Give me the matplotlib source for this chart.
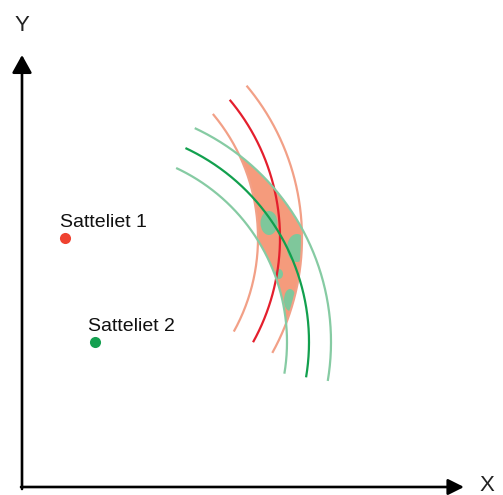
import numpy as np
import matplotlib
matplotlib.use("Agg")
import matplotlib.pyplot as plt
from matplotlib.path import Path
from matplotlib.patches import PathPatch, Ellipse

# diagram coordinates (pixels, y measured upward from the bottom)
H = 495
sat_names = ["Satteliet 1", "Satteliet 2"]
sat_x = [65, 95]
sat_y = [H - 238, H - 342]
label_x = [60, 88]
label_y = [H - 227, H - 331]

# measured range and its uncertainty band
radius = [215, 214]
band = [22, 22]
# angular span of the drawn arcs (degrees)
arc_start = [-29, -9.5]
arc_end = [40, 65]

# green spots inside the overlap (pixel centre, width, height)
blob_x = [269, 297, 279, 290]
blob_y = [H - 223, H - 248, H - 274, H - 300]
blob_w = [17, 20, 8, 12]
blob_h = [24, 28, 10, 22]

dark_cols = ['#e41f2d', '#12a04e']
light_cols = ['#f2a087', '#86cba3']
dot_cols = ['#ef4230', '#14a050']
fill_col = '#f59b7c'
blob_col = '#7fc79b'

plt.rcParams['font.family'] = ['Liberation Sans', 'DejaVu Sans']


def circle_cross(c1, r1, c2, r2):
    ''' intersection of two circles, the point with the larger x '''
    c1 = np.array(c1, float)
    c2 = np.array(c2, float)
    d = np.linalg.norm(c2 - c1)
    a = (r1**2 - r2**2 + d**2) / (2 * d)
    h = np.sqrt(r1**2 - a**2)
    u = (c2 - c1) / d
    p = c1 + a * u
    n = np.array([-u[1], u[0]])
    pts = [p + h * n, p - h * n]
    return max(pts, key=lambda q: q[0])


def arc_pts(c, r, p_from, p_to, n=60):
    a0 = np.arctan2(p_from[1] - c[1], p_from[0] - c[0])
    a1 = np.arctan2(p_to[1] - c[1], p_to[0] - c[0])
    t = np.linspace(a0, a1, n)
    return np.column_stack([c[0] + r * np.cos(t), c[1] + r * np.sin(t)])


fig = plt.figure(figsize=(5.03, 4.95), dpi=100)
ax = fig.add_axes([0, 0, 1, 1])
ax.set_xlim(0, 503)
ax.set_ylim(0, H)
ax.axis('off')

c1 = (sat_x[0], sat_y[0])
c2 = (sat_x[1], sat_y[1])
r1_in, r1_out = radius[0] - band[0], radius[0] + band[0]
r2_in, r2_out = radius[1] - band[1], radius[1] + band[1]

# overlap of the two bands
top = circle_cross(c1, r1_in, c2, r2_out)
left = circle_cross(c1, r1_in, c2, r2_in)
bottom = circle_cross(c1, r1_out, c2, r2_in)
right = circle_cross(c1, r1_out, c2, r2_out)
verts = np.vstack([
    arc_pts(c1, r1_in, top, left),
    arc_pts(c2, r2_in, left, bottom),
    arc_pts(c1, r1_out, bottom, right),
    arc_pts(c2, r2_out, right, top),
])
overlap = PathPatch(Path(verts, closed=True), facecolor=fill_col, edgecolor='none', zorder=1)
ax.add_patch(overlap)

for bx, by, bw, bh in zip(blob_x, blob_y, blob_w, blob_h):
    e = Ellipse((bx, by), bw, bh, facecolor=blob_col, edgecolor='none', zorder=2)
    ax.add_patch(e)
    e.set_clip_path(overlap)

# arcs
for i in range(2):
    t = np.radians(np.linspace(arc_start[i], arc_end[i], 200))
    cx, cy = sat_x[i], sat_y[i]
    for r, col in [(radius[i] - band[i], light_cols[i]),
                   (radius[i] + band[i], light_cols[i]),
                   (radius[i], dark_cols[i])]:
        ax.plot(cx + r * np.cos(t), cy + r * np.sin(t), color=col, lw=1.6,
                solid_capstyle='butt', zorder=3)

# satellites
for i in range(2):
    ax.plot(sat_x[i], sat_y[i], 'o', ms=8, color=dot_cols[i], mec='none', zorder=4)
    ax.text(label_x[i], label_y[i], sat_names[i], fontsize=14, color='#111111',
            ha='left', va='baseline')

# axes with arrows
y_arrow = dict(arrowstyle='-|>,head_length=0.9,head_width=0.5', mutation_scale=12,
               lw=1.9, color='black', shrinkA=0, shrinkB=0)
x_arrow = dict(arrowstyle='-|>,head_length=0.8,head_width=0.4', mutation_scale=12,
               lw=1.9, color='black', shrinkA=0, shrinkB=0)
ax.annotate('', xy=(22, H - 55), xytext=(22, H - 489), arrowprops=y_arrow)
ax.annotate('', xy=(464, H - 487), xytext=(21, H - 487), arrowprops=x_arrow)
ax.text(22, H - 31, 'Y', fontsize=16, ha='center', va='baseline', color='#222222')
ax.text(487, H - 491, 'X', fontsize=16, ha='center', va='baseline', color='#222222')

fig.savefig('out.png', dpi=100)
